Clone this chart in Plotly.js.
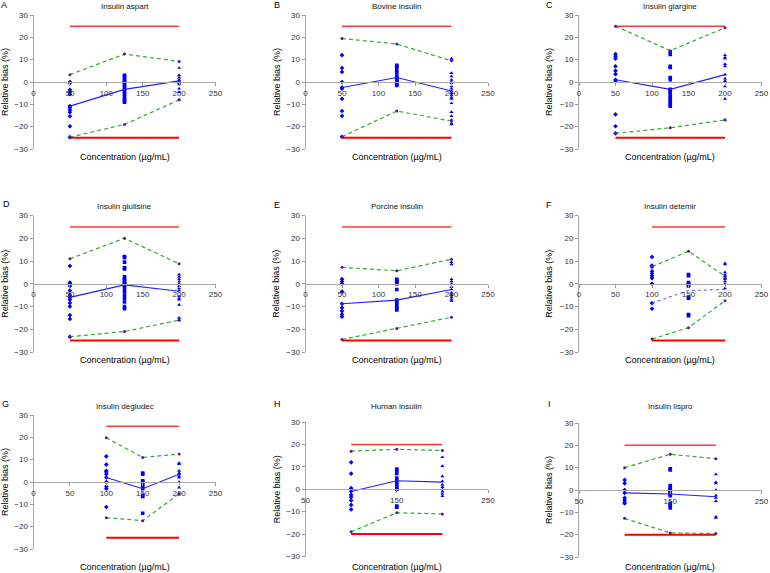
<!DOCTYPE html>
<html>
<head>
<meta charset="utf-8">
<script src="https://cdn.plot.ly/plotly-3.0.1.min.js"></script>
<style>html,body{margin:0;padding:0;background:#fff;}#chart{width:770px;height:573px;}</style>
</head>
<body>
<div id="chart"></div>
<script>
// ---- Data ----
const concABCDE = [50, 125, 200];
const concFGHI = [100, 150, 200];

// A: Insulin aspart
const A_p1 = [0, -0.5, -3.5, -4.5, -5.5, -10.8, -11.5, -12.5, -13.5, -15.3, -19.8, -24.7];
const A_p2 = [3, 2.5, 1.5, 0.5, 0, -0.5, -1.5, -2.5, -3.5, -4.5, -5.5, -6.5, -7.5, -8.5, -9];
const A_p3 = [6.3, 3, 2, 1, 0.5, 0, -0.5, -1, -3, -4.5, -8];
const A_mean = [-10.8, -3.3, 0.5];
const A_up = [3.3, 12.5, 9.2];
const A_lo = [-24.7, -19, -8];

// B: Bovine insulin
const B_p1 = [12, 6.3, 4.5, 0, -2.5, -3, -7.5, -13, -15.2, -24.5];
const B_p2 = [7.5, 7, 6.5, 5, 4, 2.5, 2, 1, 0.5, 0, -0.5, -1, -1.5];
const B_p3 = [10.5, 10, 4, 2.5, 1, 0, -0.5, -2, -3, -4, -5, -6, -7, -7.5, -9.5, -13.5, -15.3, -17, -18.5, -19];
const B_mean = [-2.5, 2, -4];
const B_up = [19.5, 17, 9.5];
const B_lo = [-24.5, -13, -17.5];

// C: Insulin glargine
const C_p1 = [12.5, 11.5, 10.5, 7, 5, 3.5, 1, 0.5, -14.5, -19.8, -23];
const C_p2 = [13.5, 12.3, 7, 6.5, 2, 1, -3.3, -4, -5, -6, -7, -8, -9, -10, -10.8];
const C_p3 = [12, 11, 10.5, 8, 7, 3.3, 1.5, 0.5, 0, -2, -7.5, -17];
const C_mean = [1, -3.3, 3.3];
const C_up = [25, 14, 24.3];
const C_lo = [-23, -20.5, -17];

// D: Insulin glulisine
const D_p1 = [7.8, 0.5, 0, -1, -3, -5, -6, -7, -8.5, -10, -13.8, -15.5, -23.3];
const D_p2 = [12, 11.5, 9.5, 7, 6.5, 3, 2, 1.5, 0.5, 0, -0.5, -1, -2, -3.5, -5, -6.5, -8, -10, -11];
const D_p3 = [4, 3, 2, 1, 0, -1, -2, -3, -5.5, -6.5, -7, -9.3, -15, -16];
const D_mean = [-6, -0.5, -3.3];
const D_up = [11, 20, 8.8];
const D_lo = [-23.3, -21, -16];

// E: Porcine insulin
const E_p1 = [2, 1, 0, -3.5, -8.8, -10.5, -12, -13.5, -14.5];
const E_p2 = [2, 1.5, 1, 0.5, 0, -2.5, -7.2, -8, -9, -10, -11, -11.5];
const E_p3 = [9.5, 8.5, 2, 1, 0, -1.5, -2.5, -4, -5, -6, -7, -7.5];
const E_mean = [-8.8, -7.2, -2.5];
const E_up = [7.2, 5.7, 10.8];
const E_lo = [-24.5, -19.7, -14.7];

// F: Insulin detemir
const F_p1 = [11.8, 8, 7.5, 5.5, 4.5, 3.5, 2.5, 0, -8.5, -11];
const F_p2 = [4, 3.5, 0.5, 0, -0.5, -1, -5.8, -6.3, -13.5, -14];
const F_p3 = [9, 8.5, 5, 4, 3.3, 2.5, 2, 1, 0, -2];
const F_mean = [-8.5, -3, -2.5];
const F_up = [7.5, 14.3, 3.3];
const F_lo = [-24.3, -19.3, -7.5];

// G: Insulin degludec
const G_p1 = [11.5, 7.8, 5, 4.5, 3.5, 2, 0, -2, -3, -11.2];
const G_p2 = [4, 3.5, 0.5, 0, -1, -2, -3, -6, -6.5, -14];
const G_p3 = [8.5, 8, 5, 4, 3.5, 2.5, 2, 0, -2.5];
const G_mean = [2, -3, 3.5];
const G_up = [19.8, 11, 12.5];
const G_lo = [-16, -17.3, -5.3];

// H: Human insulin
const H_p1 = [12, 7, 0.5, 0, -1, -2.5, -3.5, -5, -7, -9];
const H_p2 = [9, 8.5, 7, 5, 4, 3, 2, 1, 0, -7.5, -8];
const H_p3 = [14.3, 10.3, 5.8, 3.5, 2, 1, 0, -1, -2, -3];
const H_mean = [-1, 3.8, 3.2];
const H_up = [17, 17.8, 17.3];
const H_lo = [-19, -10.5, -11];

// I: Insulin lispro
const I_p1 = [4.5, 3, 0, -1.3, -3.5, -4.5, -5.5, -6];
const I_p2 = [9.5, 9, 2, 1, 0.5, 0, -0.5, -1, -2, -2.5, -6, -7, -8];
const I_p3 = [7, 3.5, 3, 0, -2.5, -3.5, -5, -12, -12.5];
const I_mean = [-1.3, -1.8, -3];
const I_up = [10, 16, 14];
const I_lo = [-12.7, -19.2, -19.5];

const letters = ['A','B','C','D','E','F','G','H','I'];
const names = ['Insulin aspart','Bovine insulin','Insulin glargine','Insulin glulisine','Porcine insulin','Insulin detemir','Insulin degludec','Human insulin','Insulin lispro'];
const limits = [25, 25, 25, 25, 25, 25, 25, 20, 20];
const xTickVals = [[0,50,100,150,200,250],[0,50,100,150,200,250],[0,50,100,150,200,250],
                   [0,50,100,150,200,250],[0,50,100,150,200,250],[0,50,100,150,200,250],
                   [0,50,100,150,200,250],[50,150,250],[50,150,250]];
const yTickVals = [-30, -20, -10, 0, 10, 20, 30];

const panelData = [
  {conc: concABCDE, p: [A_p1, A_p2, A_p3], mean: A_mean, up: A_up, lo: A_lo},
  {conc: concABCDE, p: [B_p1, B_p2, B_p3], mean: B_mean, up: B_up, lo: B_lo},
  {conc: concABCDE, p: [C_p1, C_p2, C_p3], mean: C_mean, up: C_up, lo: C_lo},
  {conc: concABCDE, p: [D_p1, D_p2, D_p3], mean: D_mean, up: D_up, lo: D_lo},
  {conc: concABCDE, p: [E_p1, E_p2, E_p3], mean: E_mean, up: E_up, lo: E_lo},
  {conc: concFGHI, p: [F_p1, F_p2, F_p3], mean: F_mean, up: F_up, lo: F_lo, dotted: true},
  {conc: concFGHI, p: [G_p1, G_p2, G_p3], mean: G_mean, up: G_up, lo: G_lo},
  {conc: concFGHI, p: [H_p1, H_p2, H_p3], mean: H_mean, up: H_up, lo: H_lo},
  {conc: concFGHI, p: [I_p1, I_p2, I_p3], mean: I_mean, up: I_up, lo: I_lo}
];

// ---- Layout geometry (pixels) ----
const W = 770, H = 573;
const colX = [[33.5, 215.5], [305.5, 488], [579, 761.5]];
const rowY = [[15, 149], [15, 149], [15, 149],
              [215.5, 352], [215.5, 352], [215.5, 352],
              [415, 549], [422, 556.5], [423, 557]];
const titleOff = [8, 8, 8, 9, 9, 9, 8.5, 16, 17];
const xTitleY = [157, 157, 157, 359.5, 359.5, 359.5, 566.5, 566.5, 566.5];
const letterPos = [[4,5],[277,5],[549,5],[6,204],[277,205],[549,205],[5,404],[277,404],[549,404]];
const yTitleX = [5, 277, 549, 5, 276, 549, 5, 277, 549];

const FONT = 'Liberation Sans, Arial, sans-serif';
const markerSyms = ['diamond', 'square', 'triangle-up'];
const traces = [];
const layout = {
  width: W, height: H,
  margin: {l: 0, r: 0, t: 0, b: 0},
  paper_bgcolor: '#fff', plot_bgcolor: 'rgba(0,0,0,0)',
  showlegend: false, hovermode: false,
  font: {family: FONT, size: 8, color: '#000'},
  annotations: []
};

panelData.forEach((pd, i) => {
  const n = i + 1;
  const xa = n === 1 ? 'x' : 'x' + n;
  const ya = n === 1 ? 'y' : 'y' + n;
  const col = i % 3;
  const xd = [colX[col][0] / W, colX[col][1] / W];
  const yd = [1 - rowY[i][1] / H, 1 - rowY[i][0] / H];
  const xmin = xTickVals[i][0];
  const lim = limits[i];
  const c = pd.conc;

  // limit lines
  traces.push({x: [c[0], c[2]], y: [lim, lim], xaxis: xa, yaxis: ya, mode: 'lines',
               line: {color: '#ff3a3a', width: 1.5}});
  traces.push({x: [c[0], c[2]], y: [-lim, -lim], xaxis: xa, yaxis: ya, mode: 'lines',
               line: {color: '#ff0000', width: 2}});
  // individual points
  pd.p.forEach((arr, k) => {
    traces.push({x: arr.map(() => c[k]), y: arr, xaxis: xa, yaxis: ya, mode: 'markers',
                 marker: {symbol: markerSyms[k], size: 3.6, color: '#0000ff'}});
  });
  // mean line
  traces.push({x: c, y: pd.mean, xaxis: xa, yaxis: ya, mode: 'lines',
               line: pd.dotted ? {color: '#6060ff', width: 1.1, dash: 'dot'} : {color: '#2020ff', width: 1.1}});
  // tolerance lines
  [pd.up, pd.lo].forEach(arr => {
    traces.push({x: c, y: arr, xaxis: xa, yaxis: ya, mode: 'lines+markers',
                 line: {color: '#33a833', width: 1.2, dash: '4px,3px'},
                 marker: {symbol: 'circle', size: 3, color: '#5a1a8a'}});
  });

  const xKey = n === 1 ? 'xaxis' : 'xaxis' + n;
  const yKey = n === 1 ? 'yaxis' : 'yaxis' + n;
  layout[xKey] = {
    domain: xd, range: [xmin, 250], anchor: 'free', position: (yd[0] + yd[1]) / 2,
    tickvals: xTickVals[i], ticks: 'outside', ticklen: 3, tickcolor: '#999',
    showline: true, linecolor: '#a8a8a8', linewidth: 1, showgrid: false, zeroline: false,
    tickfont: {family: FONT, size: 8, color: '#333'}, fixedrange: true
  };
  layout[yKey] = {
    domain: yd, range: [-30, 30], anchor: xa,
    tickvals: yTickVals, ticks: 'outside', ticklen: 3, tickcolor: '#999',
    showline: true, linecolor: '#a8a8a8', linewidth: 1, showgrid: false, zeroline: false,
    tickfont: {family: FONT, size: 8, color: '#333'}, fixedrange: true
  };

  const cx = (colX[col][0] + colX[col][1]) / 2 / W;
  // panel title
  layout.annotations.push({text: names[i], xref: 'paper', yref: 'paper', x: cx,
    y: 1 - (rowY[i][0] - titleOff[i]) / H, showarrow: false, xanchor: 'center', yanchor: 'middle',
    font: {family: FONT, size: 8, color: '#111'}});
  // x-axis title
  layout.annotations.push({text: 'Concentration (µg/mL)', xref: 'paper', yref: 'paper', x: cx,
    y: 1 - xTitleY[i] / H, showarrow: false, xanchor: 'center', yanchor: 'middle',
    font: {family: FONT, size: 9, color: '#000'}});
  // y-axis title
  layout.annotations.push({text: 'Relative bias (%)', xref: 'paper', yref: 'paper', x: yTitleX[i] / W,
    y: (yd[0] + yd[1]) / 2, showarrow: false, xanchor: 'center', yanchor: 'middle', textangle: -90,
    font: {family: FONT, size: 9, color: '#000'}});
  // panel letter
  layout.annotations.push({text: letters[i], xref: 'paper', yref: 'paper', x: letterPos[i][0] / W,
    y: 1 - letterPos[i][1] / H, showarrow: false, xanchor: 'center', yanchor: 'middle',
    font: {family: FONT, size: 9, color: '#000'}});
});

Plotly.newPlot('chart', traces, layout, {staticPlot: true, displayModeBar: false});
</script>
</body>
</html>
